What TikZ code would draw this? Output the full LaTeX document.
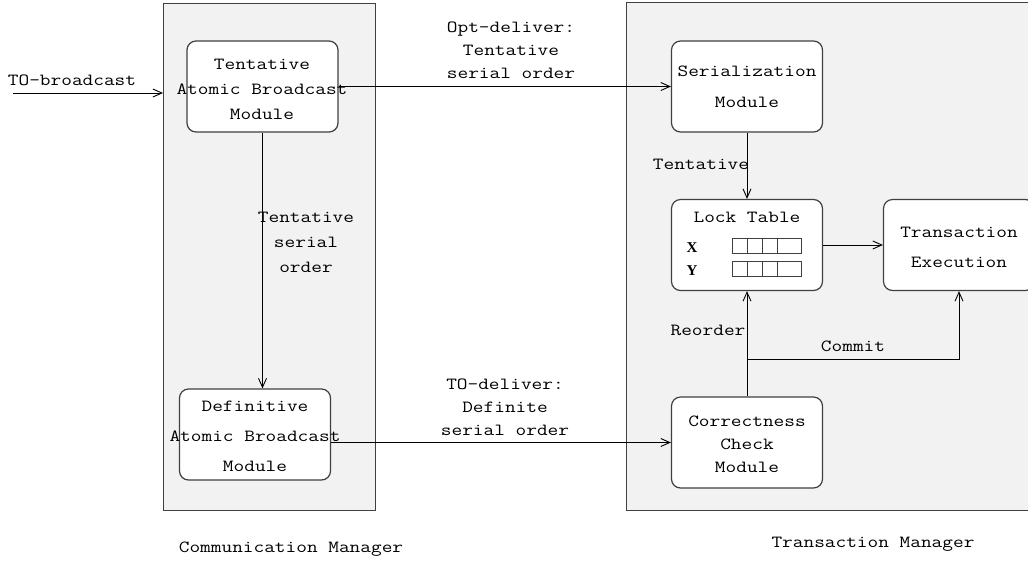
\documentclass[tikz,border=0pt]{standalone}
\usepackage{fontspec}
\newfontfamily\mono{Latin Modern Mono}[FakeStretch=1.22]
\newfontfamily\serifb{Liberation Serif}
\usetikzlibrary{arrows.meta}
\definecolor{panelgray}{HTML}{F2F2F2}
\definecolor{edgegray}{HTML}{404040}
\tikzset{
  panel/.style={draw=edgegray, fill=panelgray, line width=1.3pt, anchor=north west, inner sep=0pt},
  modbox/.style={draw=edgegray, fill=white, line width=1.2pt, rounded corners=9pt,
    minimum width=151pt, minimum height=91pt, inner sep=0pt},
  txt/.style={font=\mono\fontsize{17}{#1}\selectfont, align=center, inner sep=0pt},
  txt/.default=24,
  arr/.style={line width=0.9pt, draw=black, -{Straight Barb[length=9pt,width=8pt]}},
  conn/.style={line width=0.9pt, draw=black},
  cell/.style={draw=edgegray, line width=0.9pt},
}
\begin{document}
\begin{tikzpicture}[x=1pt,y=-1pt]
\useasboundingbox (0,0) rectangle (1028,566);

% the two managers
\node[panel, minimum width=212pt, minimum height=507pt] (cm) at (163,3) {};
\node[panel, minimum width=402pt, minimum height=508pt] (tm) at (626,2) {};
\node[txt] (cm-label) at (291,549) {Communication Manager};
\node[txt] (tm-label) at (873,544) {Transaction Manager};

% modules
\node[modbox] (tab) at (262.5,86.5) {};
\node[modbox] (def) at (255,434.5) {};
\node[modbox] (ser) at (747,86.5) {};
\node[modbox] (lock) at (747,245) {};
\node[modbox] (te) at (959,245) {};
\node[modbox] (cc) at (747,442.5) {};

\node[txt=25] (tab-text) at (262,89) {Tentative\\Atomic Broadcast\\Module};
\node[txt=30] (def-text) at (255,436) {Definitive\\Atomic Broadcast\\Module};
\node[txt=31] (ser-text) at (747,87) {Serialization\\Module};
\node[txt=23] (cc-text) at (747,444) {Correctness\\Check\\Module};
\node[txt=30] (te-text) at (959,247) {Transaction\\Execution};

% lock table contents
\node[txt] (lock-title) at (747,217) {Lock Table};
\node[font=\serifb\bfseries\fontsize{15}{15}\selectfont, inner sep=0pt] (lx) at (692,248) {X};
\node[font=\serifb\bfseries\fontsize{15}{15}\selectfont, inner sep=0pt] (ly) at (692,271) {Y};
\foreach \y in {238,261}{
  \draw[cell] (732,\y) rectangle (801,\y+15);
  \foreach \x in {747,762,777}{ \draw[cell] (\x,\y) -- (\x,\y+15); }
}

% connectors
\coordinate (src) at (13,93);
\draw[arr] (src) -- (src -| cm.west);
\node[txt] (l-tob) at (72,80) {TO-broadcast};

\draw[arr] (tab.east) -- (ser.west);
\node[txt=23] (l-opt) at (511,50) {Opt-deliver:\\Tentative\\serial order};

\draw[arr] (tab.south) -- (tab.south |- def.north);
\node[txt=25] (l-tso) at (306,242) {Tentative\\serial~\\order};

\draw[arr] (def.east |- cc.west) -- (cc.west);
\node[txt=23] (l-tod) at (505,407) {TO-deliver:\\Definite\\serial order};

\draw[arr] (ser.south) -- (lock.north);
\node[txt] (l-tent) at (701,164) {Tentative};

\draw[arr] (lock.east) -- (te.west);

\draw[arr] (cc.north) -- (lock.south);
\node[txt] (l-reo) at (708,330) {Reorder};

\coordinate (cj) at (747,359);
\draw[arr] (cj) -| (te.south);
\node[txt] (l-com) at (853,346) {Commit};
\end{tikzpicture}
\end{document}
